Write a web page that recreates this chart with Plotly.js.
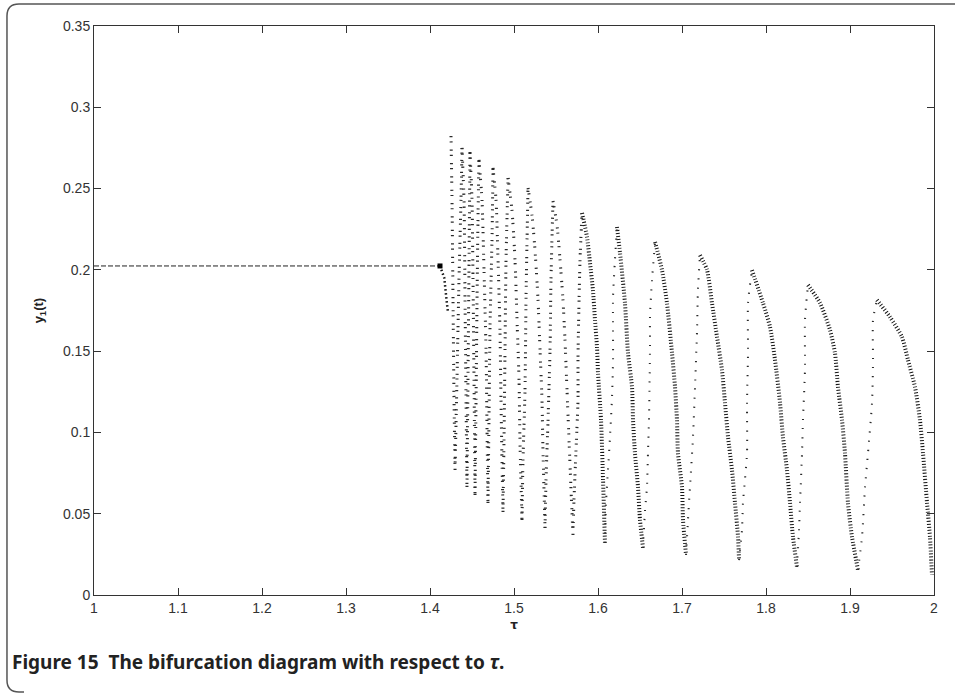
<!DOCTYPE html>
<html>
<head>
<meta charset="utf-8">
<script src="https://cdn.plot.ly/plotly-3.0.1.min.js"></script>
<style>
  html, body { margin: 0; padding: 0; background: #fff; }
  #chart { width: 955px; height: 696px; }
</style>
</head>
<body>
<div id="chart"></div>
<script>
// Stable equilibrium branch of y1 before the Hopf point
const eqTau = [1.0, 1.4119];
const eqY = [0.2024, 0.2024];

// Onset of oscillation right after the critical delay
const onsetTau = [1.4119, 1.4170, 1.4200, 1.4214];
const onsetY = [0.2024, 0.1950, 0.1800, 0.1740];

// Descending branches of the sampled orbit (one per lobe)
const fallTau = [
  [1.4250, 1.4262, 1.4274, 1.4286, 1.4298],
  [1.4381, 1.4405, 1.4417, 1.4429, 1.4440],
  [1.4476, 1.4500, 1.4512, 1.4524, 1.4536],
  [1.4583, 1.4619, 1.4643, 1.4667, 1.4679, 1.4690],
  [1.4750, 1.4786, 1.4810, 1.4833, 1.4845, 1.4857, 1.4869],
  [1.4929, 1.4976, 1.5012, 1.5036, 1.5060, 1.5071, 1.5095],
  [1.5167, 1.5214, 1.5250, 1.5286, 1.5310, 1.5333, 1.5345, 1.5369],
  [1.5464, 1.5512, 1.5548, 1.5583, 1.5607, 1.5631, 1.5655, 1.5679, 1.5702],
  [1.5810, 1.5869, 1.5905, 1.5940, 1.5964, 1.5988, 1.6000, 1.6036, 1.6060, 1.6083],
  [1.6226, 1.6262, 1.6321, 1.6357, 1.6405, 1.6417, 1.6440, 1.6476, 1.6500, 1.6536],
  [1.6679, 1.6762, 1.6821, 1.6881, 1.6917, 1.6940, 1.6952, 1.7000, 1.7012, 1.7048],
  [1.7214, 1.7298, 1.7357, 1.7417, 1.7476, 1.7512, 1.7548, 1.7595, 1.7631, 1.7667, 1.7679],
  [1.7833, 1.7964, 1.8048, 1.8107, 1.8167, 1.8202, 1.8250, 1.8286, 1.8321, 1.8369],
  [1.8500, 1.8643, 1.8762, 1.8821, 1.8857, 1.8905, 1.8940, 1.8976, 1.9024, 1.9095],
  [1.9321, 1.9476, 1.9619, 1.9690, 1.9774, 1.9833, 1.9869, 1.9917, 1.9952, 1.9976]
];
const fallY = [
  [0.2823, 0.2430, 0.1815, 0.1199, 0.0769],
  [0.2750, 0.2430, 0.1815, 0.1199, 0.0664],
  [0.2725, 0.2430, 0.1938, 0.1322, 0.0615],
  [0.2676, 0.2430, 0.1999, 0.1507, 0.1015, 0.0566],
  [0.2627, 0.2430, 0.2061, 0.1630, 0.1199, 0.0830, 0.0511],
  [0.2565, 0.2368, 0.2061, 0.1692, 0.1322, 0.0953, 0.0461],
  [0.2504, 0.2337, 0.2122, 0.1815, 0.1507, 0.1199, 0.0892, 0.0412],
  [0.2424, 0.2276, 0.2061, 0.1815, 0.1569, 0.1261, 0.0953, 0.0646, 0.0369],
  [0.2350, 0.2202, 0.2042, 0.1876, 0.1692, 0.1525, 0.1366, 0.1076, 0.0707, 0.0320],
  [0.2264, 0.2104, 0.1796, 0.1489, 0.1279, 0.1076, 0.0873, 0.0664, 0.0461, 0.0289],
  [0.2171, 0.1999, 0.1796, 0.1489, 0.1279, 0.1076, 0.0873, 0.0664, 0.0461, 0.0246],
  [0.2091, 0.1999, 0.1796, 0.1587, 0.1384, 0.1181, 0.0972, 0.0769, 0.0566, 0.0357, 0.0215],
  [0.1999, 0.1796, 0.1649, 0.1446, 0.1181, 0.0972, 0.0769, 0.0566, 0.0357, 0.0172],
  [0.1907, 0.1796, 0.1630, 0.1489, 0.1279, 0.1076, 0.0873, 0.0566, 0.0357, 0.0154],
  [0.1815, 0.1710, 0.1587, 0.1446, 0.1279, 0.1076, 0.0873, 0.0566, 0.0357, 0.0123]
];

// Rising branches joining each minimum to the next lobe's maximum
const riseTau = [
  [1.4298, 1.4321, 1.4345, 1.4369, 1.4381],
  [1.4440, 1.4452, 1.4464, 1.4476],
  [1.4536, 1.4548, 1.4560, 1.4571, 1.4583],
  [1.4690, 1.4702, 1.4714, 1.4738, 1.4750],
  [1.4869, 1.4881, 1.4893, 1.4905, 1.4929],
  [1.5095, 1.5107, 1.5131, 1.5143, 1.5155, 1.5167],
  [1.5369, 1.5381, 1.5405, 1.5429, 1.5440, 1.5464],
  [1.5702, 1.5714, 1.5738, 1.5762, 1.5762, 1.5786, 1.5810],
  [1.6083, 1.6095, 1.6119, 1.6143, 1.6167, 1.6179, 1.6179, 1.6202, 1.6226],
  [1.6536, 1.6560, 1.6583, 1.6595, 1.6607, 1.6619, 1.6619, 1.6643, 1.6679],
  [1.7048, 1.7071, 1.7095, 1.7131, 1.7155, 1.7179, 1.7190, 1.7214],
  [1.7679, 1.7714, 1.7726, 1.7774, 1.7774, 1.7786, 1.7786, 1.7833],
  [1.8369, 1.8393, 1.8405, 1.8429, 1.8440, 1.8464, 1.8464, 1.8500],
  [1.9095, 1.9143, 1.9179, 1.9214, 1.9262, 1.9274, 1.9274, 1.9321]
];
const riseY = [
  [0.0769, 0.1322, 0.1938, 0.2430, 0.2750],
  [0.0664, 0.1322, 0.1999, 0.2725],
  [0.0615, 0.1199, 0.1815, 0.2307, 0.2676],
  [0.0566, 0.1076, 0.1630, 0.2184, 0.2627],
  [0.0511, 0.0953, 0.1507, 0.2061, 0.2565],
  [0.0461, 0.0830, 0.1261, 0.1815, 0.2184, 0.2504],
  [0.0412, 0.0707, 0.1076, 0.1507, 0.1938, 0.2424],
  [0.0369, 0.0584, 0.0892, 0.1199, 0.1464, 0.2061, 0.2350],
  [0.0320, 0.0566, 0.0769, 0.0972, 0.1218, 0.1446, 0.1833, 0.2061, 0.2264],
  [0.0289, 0.0523, 0.0664, 0.0873, 0.1076, 0.1525, 0.1710, 0.1938, 0.2171],
  [0.0246, 0.0461, 0.0664, 0.0972, 0.1279, 0.1630, 0.1876, 0.2091],
  [0.0215, 0.0400, 0.0566, 0.0873, 0.1181, 0.1489, 0.1796, 0.1999],
  [0.0172, 0.0400, 0.0566, 0.0873, 0.1076, 0.1384, 0.1692, 0.1907],
  [0.0154, 0.0357, 0.0664, 0.0873, 0.1181, 0.1427, 0.1692, 0.1815]
];

const xTickVals = [1, 1.1, 1.2, 1.3, 1.4, 1.5, 1.6, 1.7, 1.8, 1.9, 2];
const yTickVals = [0, 0.05, 0.1, 0.15, 0.2, 0.25, 0.3, 0.35];
const captionText = '<b>Figure 15  The bifurcation diagram with respect to <i>τ</i>.</b>';

const traces = [];

traces.push({
  x: eqTau, y: eqY, mode: 'lines', hoverinfo: 'skip',
  line: { color: '#222', width: 1, dash: '5px,2px' }
});
traces.push({
  x: onsetTau, y: onsetY, mode: 'lines', hoverinfo: 'skip',
  line: { color: '#111', width: 2.5, dash: '1.5px,2.5px' }
});
traces.push({
  x: [eqTau[1]], y: [eqY[1]], mode: 'markers', hoverinfo: 'skip',
  marker: { symbol: 'square', size: 5, color: '#000' }
});

fallTau.forEach((t, i) => {
  const dense = i >= 8;
  traces.push({
    x: t, y: fallY[i], mode: 'lines', hoverinfo: 'skip',
    line: {
      color: dense ? '#151515' : '#2a2a2a', shape: 'spline', smoothing: 0.6,
      width: dense ? 4 : 3,
      dash: dense ? '1px,2px' : '1.2px,4px,1.2px,7px'
    }
  });
});

riseTau.forEach((t, i) => {
  const right = i >= 8;
  traces.push({
    x: t, y: riseY[i], mode: 'lines', hoverinfo: 'skip',
    line: {
      color: '#2a2a2a', shape: 'spline', smoothing: 0.6,
      width: right ? 2 : 3,
      dash: right ? '1.2px,8px' : '1.2px,6px,1.2px,3.5px'
    }
  });
});

// Pixel -> paper helpers for the rounded figure frame
const L = 94, R = 21, T = 26, B = 101, W = 955, H = 696;
const pw = W - L - R, ph = H - T - B;
const px = v => ((v - L) / pw).toFixed(4);
const py = v => ((H - B - v) / ph).toFixed(4);
const framePath =
  `M ${px(960)},${py(4)} L ${px(19)},${py(4)} Q ${px(7)},${py(4)} ${px(7)},${py(16)} ` +
  `L ${px(7)},${py(680)} Q ${px(7)},${py(692)} ${px(19)},${py(692)} L ${px(24)},${py(692)}`;

const axisFont = { family: 'Liberation Sans, Arial, sans-serif', size: 14, color: '#333' };

const layout = {
  width: W, height: H,
  margin: { l: L, r: R, t: T, b: B },
  paper_bgcolor: '#fff', plot_bgcolor: '#fff',
  showlegend: false,
  xaxis: {
    range: [1, 2], tickvals: xTickVals, ticks: 'inside', ticklen: 7,
    tickcolor: '#333', showline: true, linecolor: '#333', linewidth: 1,
    mirror: 'ticks', showgrid: false, zeroline: false, tickfont: axisFont,
    title: { text: '<b>τ</b>', font: { family: 'DejaVu Sans, sans-serif', size: 12, color: '#222' }, standoff: 5 }
  },
  yaxis: {
    range: [0, 0.35], tickvals: yTickVals, ticks: 'inside', ticklen: 7,
    tickcolor: '#333', showline: true, linecolor: '#333', linewidth: 1,
    mirror: 'ticks', showgrid: false, zeroline: false, tickfont: axisFont,
    title: { text: '<b>y<sub>1</sub>(t)</b>', font: { family: 'Liberation Sans, Arial, sans-serif', size: 13, color: '#222' }, standoff: 16 }
  },
  shapes: [{
    type: 'path', xref: 'paper', yref: 'paper', path: framePath,
    line: { color: '#555', width: 1.5 }
  }],
  annotations: [{
    xref: 'paper', yref: 'paper', x: px(10), y: py(662),
    xanchor: 'left', yanchor: 'middle', showarrow: false,
    text: captionText,
    font: { family: 'Noto Sans, Open Sans, sans-serif', size: 19, color: '#222' }
  }]
};

Plotly.newPlot('chart', traces, layout, { staticPlot: true, displayModeBar: false });
</script>
</body>
</html>
